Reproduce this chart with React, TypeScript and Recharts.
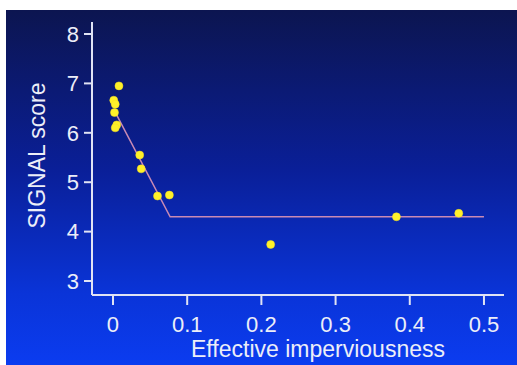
import { ScatterChart, Scatter, XAxis, YAxis } from "recharts";

// site measurements
const siteImperv = [0.008, 0.001, 0.003, 0.002, 0.005, 0.003, 0.036, 0.038, 0.06, 0.076, 0.2125, 0.382, 0.466];
const siteSignal = [6.95, 6.66, 6.58, 6.41, 6.16, 6.1, 5.55, 5.27, 4.72, 4.74, 3.74, 4.3, 4.37];

// fitted breakpoint model
const fitImperv = [0.004, 0.077, 0.5];
const fitSignal = [6.39, 4.3, 4.3];

const xTicks = [0, 0.1, 0.2, 0.3, 0.4, 0.5];
const yTicks = [3, 4, 5, 6, 7, 8];

const points = siteImperv.map((x, i) => ({ x, y: siteSignal[i] }));
const fit = fitImperv.map((x, i) => ({ x, y: fitSignal[i] }));

const font = "'Liberation Sans', Arial, sans-serif";
const axisColor = "#e0e3f4";
const textColor = "#eceef8";

const Dot = (props: any) => (
  <circle cx={props.cx} cy={props.cy} r={4} fill="#fff12a" stroke="#f4e020" strokeWidth={0.5} />
);

export default function App() {
  return (
    <div style={{ position: "absolute", left: 0, top: 0, width: 517, height: 365, background: "#fff" }}>
      <div
        style={{
          position: "absolute",
          left: 6,
          top: 10,
          width: 511,
          height: 355,
          background: "linear-gradient(to bottom, #0c1550 0%, #0a1f98 45%, #0a34d8 80%, #0b3cf0 100%)",
        }}
      />
      <div style={{ position: "absolute", left: 0, top: 0 }}>
        <ScatterChart width={517} height={365} margin={{ top: 22, right: 13, bottom: 40, left: 32 }}>
          <XAxis
            type="number"
            dataKey="x"
            domain={[-0.0283, 0.527]}
            ticks={xTicks}
            allowDataOverflow
            height={30}
            stroke={axisColor}
            strokeWidth={2}
            tickSize={10}
            tickMargin={11}
            tick={{ fill: textColor, fontSize: 22, fontFamily: font }}
            label={{
              value: "Effective imperviousness",
              position: "bottom",
              offset: 16,
              dx: 20,
              fill: textColor,
              fontSize: 23,
              fontFamily: font,
            }}
          />
          <YAxis
            type="number"
            dataKey="y"
            domain={[2.717, 8.243]}
            ticks={yTicks}
            allowDataOverflow
            width={60}
            stroke={axisColor}
            strokeWidth={2}
            tickSize={8}
            tickMargin={5}
            tick={{ fill: textColor, fontSize: 22, fontFamily: font }}
            label={{
              value: "SIGNAL score",
              angle: -90,
              position: "insideLeft",
              offset: 5,
              dy: -3,
              fill: textColor,
              fontSize: 23,
              fontFamily: font,
              style: { textAnchor: "middle" },
            }}
          />
          <Scatter
            data={fit}
            line={{ stroke: "#c88ab4", strokeWidth: 1.5 }}
            shape={() => null}
            isAnimationActive={false}
          />
          <Scatter data={points} shape={Dot} isAnimationActive={false} />
        </ScatterChart>
      </div>
    </div>
  );
}
